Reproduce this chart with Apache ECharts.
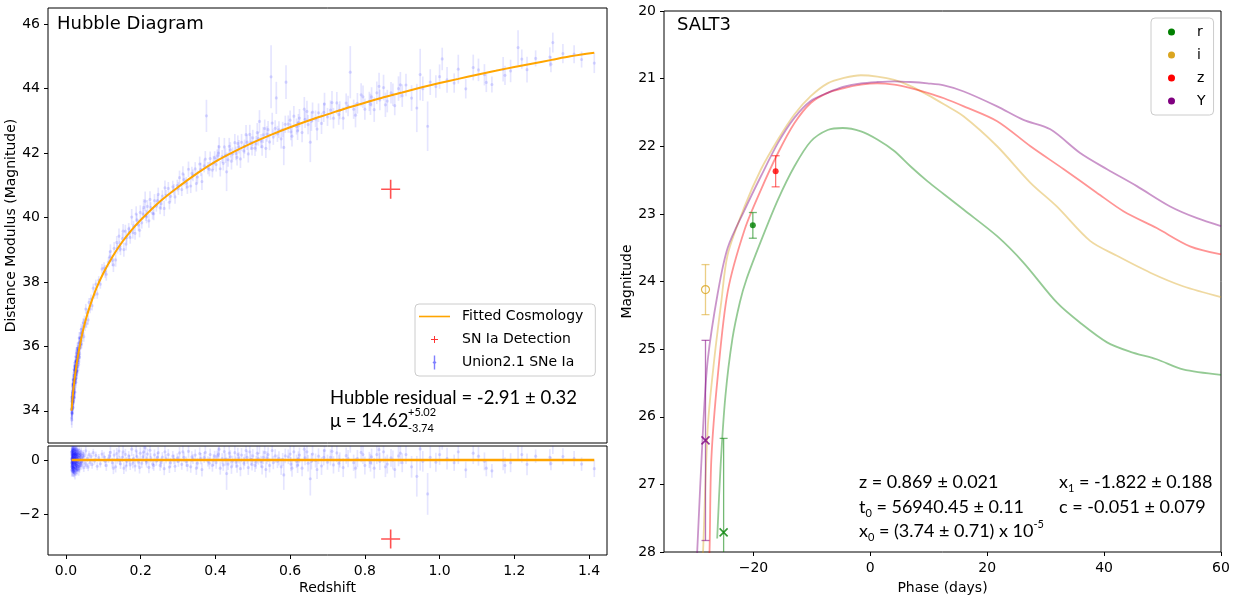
<!DOCTYPE html>
<html>
<head>
<meta charset="utf-8">
<title>Hubble Diagram / SALT3</title>
<script src="https://cdn.jsdelivr.net/npm/echarts@6/dist/echarts.min.js"></script>
<style>
  html, body { margin: 0; padding: 0; background: #fff; }
  #chart { width: 1250px; height: 600px; }
</style>
</head>
<body>
<div id="chart"></div>
<script>
// ---- Hubble diagram: fitted cosmology ----
const fitZ  = [0.015, 0.02, 0.025, 0.03, 0.04, 0.05, 0.06, 0.08, 0.1, 0.125, 0.15, 0.175, 0.2, 0.25, 0.3, 0.35, 0.4, 0.45, 0.5, 0.55, 0.6, 0.65, 0.7, 0.75, 0.8, 0.85, 0.9, 0.95, 1.0, 1.05, 1.1, 1.15, 1.2, 1.25, 1.3, 1.35, 1.414];
const fitMu = [34.0, 34.66, 35.15, 35.55, 36.19, 36.69, 37.1, 37.76, 38.27, 38.79, 39.23, 39.6, 39.92, 40.48, 40.94, 41.36, 41.73, 42.04, 42.32, 42.57, 42.8, 43.01, 43.2, 43.39, 43.56, 43.73, 43.88, 44.03, 44.17, 44.3, 44.43, 44.55, 44.67, 44.78, 44.89, 45.0, 45.11];

// Union2.1 supernovae: [redshift, hubble residual, error]
const nearbySN = [
  [0.0150,0.05,0.2],[0.0151,0.28,0.22],[0.0152,-0.25,0.22],[0.0155,-0.12,0.2],[0.0157,-0.38,0.24],[0.0158,0.31,0.18],
  [0.0161,-0.08,0.25],[0.0162,0.02,0.2],[0.0164,0.18,0.21],[0.0166,0.22,0.2],[0.0168,-0.2,0.22],[0.0170,-0.35,0.23],
  [0.0172,0.32,0.2],[0.0173,0.05,0.17],[0.0175,-0.05,0.2],[0.0177,0.41,0.21],[0.0179,-0.28,0.21],[0.0180,-0.18,0.19],
  [0.0183,0.1,0.19],[0.0184,0.09,0.24],[0.0186,0.36,0.22],[0.0189,-0.42,0.2],[0.0191,-0.1,0.2],[0.0192,0.27,0.18],
  [0.0194,0.4,0.22],[0.0196,-0.03,0.22],[0.0198,-0.31,0.2],[0.0200,0.16,0.16],[0.0202,-0.4,0.21],[0.0204,-0.29,0.21],
  [0.0206,0.08,0.18],[0.0208,0.35,0.2],[0.0210,0.2,0.19],[0.0212,-0.12,0.17],[0.0214,-0.3,0.2],[0.0216,0.02,0.19],
  [0.0219,0.44,0.23],[0.0221,-0.45,0.19],[0.0224,-0.22,0.18],[0.0226,0.05,0.18],[0.0228,0.11,0.16],[0.0230,0.28,0.2],
  [0.0232,-0.38,0.2],[0.0234,0.38,0.21],[0.0236,0.24,0.18],[0.0238,-0.15,0.18],[0.0240,-0.06,0.15],[0.0242,-0.5,0.22],
  [0.0244,0.19,0.17],[0.0247,0.0,0.17],[0.0249,-0.15,0.19],[0.0251,0.24,0.19],[0.0253,0.33,0.2],[0.0255,0.15,0.16],
  [0.0258,-0.27,0.18],[0.0260,-0.05,0.17],[0.0262,0.07,0.15],[0.0264,0.42,0.22],[0.0267,-0.4,0.19],[0.0269,-0.18,0.18],
  [0.0271,0.21,0.16],[0.0273,-0.32,0.19],[0.0276,-0.1,0.17],[0.0279,0.18,0.17],[0.0281,0.38,0.2],[0.0283,0.12,0.16],
  [0.0286,-0.2,0.16],[0.0288,-0.12,0.16],[0.0291,0.04,0.15],[0.0294,0.06,0.17],[0.0296,0.29,0.17],[0.0299,-0.36,0.2],
  [0.0302,-0.33,0.18],[0.0305,0.35,0.19],[0.0308,0.14,0.15],[0.0312,-0.25,0.18],[0.0315,-0.07,0.16],[0.0318,0.21,0.17],
  [0.0322,0.26,0.17],[0.0326,0.0,0.16],[0.0330,-0.24,0.16],[0.0334,-0.02,0.15],[0.0338,0.1,0.15],[0.0342,-0.38,0.2],
  [0.0346,-0.16,0.16],[0.0351,0.25,0.17],[0.0355,0.36,0.18],[0.0360,0.16,0.17],[0.0364,-0.3,0.17],[0.0368,-0.22,0.16],
  [0.0374,0.03,0.14],[0.0380,-0.1,0.16],[0.0385,0.18,0.15],[0.0391,0.11,0.15],[0.0396,-0.13,0.14],[0.0402,0.22,0.16],
  [0.0408,0.3,0.16],[0.0414,-0.08,0.15],[0.0420,-0.21,0.15],[0.0433,0.08,0.14],[0.0447,-0.05,0.15],[0.0455,0.14,0.16],
  [0.0462,0.23,0.14],[0.0478,-0.28,0.16],[0.0495,0.15,0.14],[0.0512,-0.11,0.15],[0.0531,0.34,0.16],[0.0551,-0.19,0.14],
  [0.0572,0.06,0.13],[0.0595,-0.26,0.15],[0.0619,0.2,0.14],[0.0645,-0.09,0.13],[0.0672,0.13,0.14],[0.0701,-0.17,0.15],
  [0.0732,0.27,0.14],[0.0765,-0.04,0.13],[0.0800,0.17,0.14],[0.0838,-0.23,0.15],[0.0878,0.09,0.13],[0.0921,-0.14,0.14],
  [0.0966,0.22,0.15]
];
const sdssSN = [
  [0.102,0.12,0.18],[0.105,-0.05,0.2],[0.108,-0.2,0.2],[0.114,0.05,0.16],[0.117,0.15,0.18],[0.119,0.28,0.22],
  [0.124,-0.1,0.18],[0.127,-0.3,0.22],[0.129,0.18,0.2],[0.133,-0.25,0.21],[0.136,0.24,0.2],[0.138,0.02,0.16],
  [0.142,0.33,0.24],[0.144,-0.02,0.17],[0.146,-0.14,0.19],[0.151,0.1,0.17],[0.153,0.3,0.22],[0.155,-0.3,0.22],
  [0.159,0.21,0.2],[0.161,-0.22,0.2],[0.163,-0.05,0.16],[0.168,0.15,0.18],[0.17,0.02,0.17],[0.172,-0.18,0.19],
  [0.176,0.4,0.25],[0.179,-0.12,0.19],[0.181,0.06,0.16],[0.185,-0.22,0.2],[0.188,0.34,0.24],[0.19,0.13,0.18],
  [0.194,-0.08,0.17],[0.197,-0.28,0.22],[0.199,0.25,0.22],[0.203,-0.12,0.18],[0.206,0.12,0.18],[0.208,0.3,0.26],
  [0.212,0.45,0.3],[0.214,-0.02,0.17],[0.216,-0.08,0.2],[0.218,0.22,0.2],[0.222,-0.27,0.22],[0.225,0.36,0.25],
  [0.227,0.08,0.17],[0.232,-0.15,0.19],[0.235,-0.2,0.2],[0.237,0.19,0.2],[0.242,-0.04,0.17],[0.245,0.1,0.18],
  [0.247,0.27,0.21],[0.252,-0.2,0.2],[0.255,-0.1,0.19],[0.258,0.11,0.18],[0.263,-0.32,0.24],[0.265,0.3,0.23],
  [0.268,0.04,0.17],[0.274,0.2,0.2],[0.277,-0.26,0.22],[0.28,-0.1,0.18],[0.286,0.14,0.19],[0.289,0.02,0.18],
  [0.292,-0.23,0.21],[0.298,0.07,0.18],[0.301,-0.05,0.2],[0.304,0.26,0.22],[0.31,-0.16,0.2],[0.313,0.3,0.24],
  [0.316,0.1,0.18],[0.322,-0.06,0.19],[0.325,-0.2,0.22],[0.328,0.32,0.24],[0.334,-0.25,0.22],[0.337,0.12,0.2],
  [0.34,0.03,0.18],[0.346,0.18,0.21],[0.349,-0.3,0.25],[0.352,-0.12,0.2],[0.358,0.24,0.23],[0.361,0.05,0.21],
  [0.364,-0.35,0.26],[0.37,0.09,0.2],[0.373,0.28,0.25],[0.376,1.6,0.5],[0.38,-0.05,0.19],[0.384,-0.12,0.22],
  [0.386,0.2,0.22],[0.392,-0.2,0.23],[0.395,0.0,0.22],[0.398,0.14,0.2]
];
const snlsSN = [
  [0.402,-0.1,0.22],[0.405,0.15,0.2],[0.408,0.22,0.25],[0.41,0.4,0.3],[0.413,-0.3,0.24],[0.418,0.05,0.2],
  [0.421,-0.18,0.22],[0.424,0.31,0.28],[0.427,0.02,0.23],[0.43,-0.5,0.6],[0.434,-0.15,0.22],[0.437,0.25,0.26],
  [0.44,0.12,0.24],[0.443,-0.25,0.26],[0.446,-0.04,0.2],[0.452,0.27,0.27],[0.455,-0.08,0.21],[0.458,-0.22,0.25],
  [0.46,0.2,0.25],[0.463,0.08,0.21],[0.467,-0.32,0.28],[0.47,0.18,0.26],[0.476,-0.12,0.23],[0.478,0.0,0.22],
  [0.482,0.35,0.3],[0.485,0.1,0.24],[0.488,-0.28,0.27],[0.492,0.3,0.3],[0.495,0.02,0.22],[0.498,-0.16,0.23],
  [0.5,0.15,0.25],[0.506,-0.2,0.24],[0.509,-0.08,0.24],[0.512,0.25,0.3],[0.515,0.05,0.22],[0.518,0.57,0.35],
  [0.522,-0.06,0.22],[0.525,-0.25,0.28],[0.528,0.1,0.25],[0.532,0.28,0.28],[0.535,-0.35,0.3],[0.538,0.08,0.24],
  [0.541,0.2,0.27],[0.545,-0.2,0.26],[0.549,1.8,0.98],[0.552,0.35,0.32],[0.555,-0.1,0.24],[0.56,0.15,0.25],
  [0.563,1.08,0.5],[0.566,-0.05,0.25],[0.57,0.06,0.26],[0.576,-0.25,0.3],[0.58,0.02,0.24],[0.583,-0.55,0.55],
  [0.587,0.15,0.27],[0.589,1.45,0.52],[0.595,0.12,0.27],[0.6,0.22,0.3],[0.602,-0.15,0.26],[0.605,-0.3,0.32],
  [0.61,0.3,0.32],[0.617,-0.05,0.25],[0.62,-0.2,0.28],[0.622,0.05,0.27],[0.625,0.18,0.28],[0.632,-0.3,0.3],
  [0.638,0.4,0.38],[0.64,0.08,0.27],[0.645,0.3,0.33],[0.648,-0.12,0.3],[0.654,-0.69,0.62],[0.657,-0.05,0.3],
  [0.66,0.22,0.3],[0.668,-0.02,0.26],[0.672,-0.35,0.35],[0.676,0.14,0.29],[0.684,-0.22,0.33],[0.69,0.1,0.3],
  [0.692,0.35,0.35],[0.7,-0.08,0.28],[0.708,0.1,0.3],[0.712,0.32,0.36],[0.716,-0.18,0.32],[0.725,0.26,0.34],
  [0.73,-0.12,0.32],[0.733,0.0,0.28],[0.742,-0.28,0.35],[0.75,0.16,0.3],[0.755,0.05,0.32],[0.761,1.08,0.81],
  [0.77,-0.1,0.3],[0.775,-0.3,0.38],[0.78,0.05,0.32],[0.79,0.28,0.36],[0.795,0.2,0.35],[0.8,-0.2,0.33],
  [0.812,0.0,0.3],[0.815,-0.1,0.33],[0.818,0.12,0.3],[0.825,-0.3,0.38],[0.832,0.2,0.35],[0.838,0.38,0.42],
  [0.84,-0.05,0.32],[0.85,0.3,0.4],[0.855,-0.25,0.38],[0.86,-0.15,0.35],[0.87,0.08,0.33],[0.875,0.0,0.35],
  [0.88,-0.35,0.3],[0.89,0.15,0.38],[0.895,0.25,0.4],[0.9,-0.1,0.35]
];
const hstSN = [
  [0.91,0.2,0.35],[0.925,-0.25,0.4],[0.939,-0.6,0.75],[0.948,0.41,0.8],[0.955,-0.05,0.38],[0.968,-1.25,0.77],
  [0.975,0.1,0.4],[0.99,-0.08,0.35],[1.0,0.2,0.38],[1.007,0.73,0.35],[1.02,0.05,0.4],[1.039,-0.1,0.3],
  [1.05,0.3,0.45],[1.07,-0.36,0.3],[1.09,0.25,0.4],[1.104,0.14,0.35],[1.12,-0.05,0.33],[1.125,-0.3,0.3],
  [1.14,-0.4,0.25],[1.17,0.0,0.38],[1.175,-0.2,0.3],[1.19,-0.1,0.35],[1.21,0.58,0.54],[1.22,0.2,0.3],
  [1.234,-0.16,0.4],[1.257,0.14,0.25],[1.295,0.1,0.3],[1.298,-0.13,0.25],[1.303,0.53,0.31],[1.33,0.13,0.3],
  [1.36,0.05,0.28],[1.38,-0.15,0.25],[1.414,-0.32,0.31]
];

// the new SN Ia
const detZ = 0.869;
const detResid = -2.91;

const zTicks = [0, 0.2, 0.4, 0.6, 0.8, 1.0, 1.2, 1.4];
const muTicks = [34, 36, 38, 40, 42, 44, 46];
const residTicks = [-2, 0];
const phaseTicks = [-20, 0, 20, 40, 60];

// ---- SALT3 light-curve models: [phase, magnitude] ----
const curveR = [[-26.2,27.8],[-25.6,26.7],[-24.8,25.7],[-23.6,24.85],[-22.3,24.3],[-21.2,23.97],[-18.7,23.4],[-15.8,22.79],[-13.0,22.3],[-10.2,21.93],[-7.3,21.76],[-4.7,21.73],[-1.6,21.78],[1.2,21.9],[4.1,22.07],[6.9,22.3],[9.8,22.52],[12.6,22.71],[16.0,22.94],[21.7,23.33],[26.2,23.72],[31.9,24.31],[35.9,24.61],[40.5,24.9],[44.5,25.04],[49.0,25.15],[53.5,25.3],[60,25.38]];
const curveI = [[-28.8,28.3],[-28.6,27.96],[-27.8,26.14],[-26.7,25.15],[-25.5,24.3],[-24.4,23.6],[-21.5,22.89],[-18.7,22.34],[-15.8,21.9],[-13.0,21.53],[-10.2,21.26],[-7.3,21.07],[-4.5,20.99],[-1.6,20.95],[1.2,20.97],[4.1,21.02],[6.9,21.11],[9.8,21.24],[12.6,21.38],[16.0,21.56],[21.7,22.0],[27.4,22.54],[31.9,22.89],[37.6,23.4],[42.2,23.62],[47.9,23.87],[53.5,24.07],[60,24.23]];
const curveZ = [[-27.7,28.3],[-27.5,27.96],[-27.2,26.63],[-26.1,25.4],[-24.4,24.15],[-21.5,23.23],[-18.7,22.64],[-15.8,22.1],[-13.0,21.66],[-10.2,21.36],[-7.3,21.21],[-4.5,21.14],[-1.6,21.09],[1.2,21.07],[4.1,21.09],[6.9,21.14],[9.8,21.21],[12.6,21.29],[16.0,21.41],[21.7,21.63],[27.4,22.0],[33.1,22.34],[38.8,22.69],[43.3,22.96],[49.0,23.21],[54.7,23.48],[60,23.6]];
const curveY = [[-29.8,28.3],[-29.6,27.96],[-28.6,26.14],[-27.8,25.15],[-26.1,24.17],[-24.4,23.5],[-21.5,22.94],[-18.7,22.44],[-15.8,21.95],[-13.0,21.58],[-10.2,21.33],[-7.3,21.21],[-4.5,21.12],[-1.6,21.07],[1.2,21.05],[4.1,21.04],[6.9,21.05],[9.8,21.07],[12.6,21.1],[16.0,21.19],[21.7,21.41],[26.2,21.61],[30.8,21.75],[35.9,22.1],[40.5,22.34],[45.6,22.59],[51.3,22.89],[55.8,23.06],[60,23.18]];

// photometry
const obsBand  = ['r', 'r', 'i', 'z', 'Y'];
const obsPhase = [-20.1, -25.1, -28.2, -16.2, -28.2];
const obsMag   = [23.17, 27.71, 24.12, 22.37, 26.35];
const obsErr   = [0.19, 1.39, 0.37, 0.23, 1.48];
const obsKind  = ['detection', 'limit', 'faint', 'detection', 'limit'];

const bandColor = { r: '#008000', i: '#DAA520', z: '#FF0000', Y: '#800080' };
const bandCurves = { r: curveR, i: curveI, z: curveZ, Y: curveY };

const tickFont = 'DejaVu Sans';
const noteFont = 'Lato';

function fitAt(z) {
  for (let k = 1; k < fitZ.length; k++) {
    if (z <= fitZ[k]) {
      const t = (z - fitZ[k - 1]) / (fitZ[k] - fitZ[k - 1]);
      return fitMu[k - 1] + t * (fitMu[k] - fitMu[k - 1]);
    }
  }
  return fitMu[fitMu.length - 1];
}

function minusFmt(v, d) {
  const s = Math.abs(v).toFixed(d);
  return v < 0 ? '\u2212' + s : s;
}

function hexAlpha(hex, a) {
  const n = parseInt(hex.slice(1), 16);
  return 'rgba(' + (n >> 16) + ',' + ((n >> 8) & 255) + ',' + (n & 255) + ',' + a + ')';
}

const allSN = nearbySN.concat(sdssSN, snlsSN, hstSN);
const snMain = allSN.map(p => [p[0], fitAt(p[0]) + p[1], p[2]]);
const snResid = allSN.map(p => [p[0], p[1], p[2]]);

// light blue error bar + dot, clipped to the grid
function renderSN(params, api) {
  const cs = params.coordSys;
  const lo = cs.y, hi = cs.y + cs.height;
  const z = api.value(0), m = api.value(1), e = api.value(2);
  const a = api.coord([z, m + e]), b = api.coord([z, m - e]), c = api.coord([z, m]);
  const y0 = Math.min(Math.max(Math.min(a[1], b[1]), lo), hi);
  const y1 = Math.min(Math.max(Math.max(a[1], b[1]), lo), hi);
  const kids = [];
  if (y1 - y0 > 0.2) {
    kids.push({ type: 'line', shape: { x1: c[0], y1: y0, x2: c[0], y2: y1 },
      style: { stroke: 'rgba(0,0,255,0.1)', lineWidth: 1.7 } });
  }
  if (c[1] >= lo && c[1] <= hi) {
    kids.push({ type: 'circle', shape: { cx: c[0], cy: c[1], r: 1.6 },
      style: { fill: 'rgba(0,0,255,0.13)' } });
  }
  return { type: 'group', children: kids };
}

// capped error bar for the photometry
function makeCapBar(color) {
  return function (params, api) {
    const cs = params.coordSys;
    const lo = cs.y, hi = cs.y + cs.height;
    const x = api.value(0), m = api.value(1), e = api.value(2);
    const a = api.coord([x, m - e]), b = api.coord([x, m + e]);
    const top = Math.min(a[1], b[1]), bot = Math.max(a[1], b[1]);
    const st = { stroke: color, lineWidth: 1.3 };
    const kids = [{ type: 'line', shape: { x1: a[0], y1: Math.max(top, lo), x2: a[0], y2: Math.min(bot, hi) }, style: st }];
    if (top >= lo && top <= hi) kids.push({ type: 'line', shape: { x1: a[0] - 4, y1: top, x2: a[0] + 4, y2: top }, style: st });
    if (bot >= lo && bot <= hi) kids.push({ type: 'line', shape: { x1: a[0] - 4, y1: bot, x2: a[0] + 4, y2: bot }, style: st });
    return { type: 'group', children: kids };
  };
}

const plusSymbol = 'path://M8.7,0H10.3V8.7H19V10.3H10.3V19H8.7V10.3H0V8.7H8.7Z';
const plusIcon = 'path://M0,0M31,14M15,3.5H16V6.5H19V7.5H16V10.5H15V7.5H12V6.5H15Z';
const barIcon = 'path://M0,0M31,14M14.8,0H16.2V14H14.8Z M15.5,5L17.5,7L15.5,9L13.5,7Z';
const lineIcon = 'path://M0,0M31,14M0,6.2H31V7.8H0Z';
const crossSymbol = 'path://M0,0L10,10M10,0L0,10';

const axisTxt = { fontFamily: tickFont, fontSize: 14, color: '#000' };
const tickStyle = { length: 4, lineStyle: { color: '#000', width: 1 } };
const noLine = { show: false, onZero: false };

const series = [
  { name: 'Union2.1 SNe Ia', type: 'custom', xAxisIndex: 0, yAxisIndex: 0, renderItem: renderSN,
    encode: { x: 0, y: 1 }, data: snMain, itemStyle: { color: 'rgba(0,0,255,0.45)' }, z: 2, silent: true },
  { name: 'Fitted Cosmology', type: 'line', xAxisIndex: 0, yAxisIndex: 0, smooth: 0.3, symbol: 'none',
    data: fitZ.map((z, k) => [z, fitMu[k]]), lineStyle: { color: '#FFA500', width: 2 }, itemStyle: { color: '#FFA500' }, z: 3 },
  { name: 'SN Ia Detection', type: 'scatter', xAxisIndex: 0, yAxisIndex: 0, symbol: plusSymbol, symbolSize: 19,
    data: [[detZ, fitAt(detZ) + detResid]], itemStyle: { color: 'rgba(255,0,0,0.85)' }, z: 4 },

  { name: 'Union2.1 SNe Ia', type: 'custom', xAxisIndex: 1, yAxisIndex: 1, renderItem: renderSN,
    encode: { x: 0, y: 1 }, data: snResid, itemStyle: { color: 'rgba(0,0,255,0.45)' }, z: 2, silent: true },
  { name: 'Fitted Cosmology', type: 'line', xAxisIndex: 1, yAxisIndex: 1, symbol: 'none',
    data: [[fitZ[0], 0], [fitZ[fitZ.length - 1], 0]], lineStyle: { color: '#FFA500', width: 2.5 }, itemStyle: { color: '#FFA500' }, z: 3 },
  { name: 'SN Ia Detection', type: 'scatter', xAxisIndex: 1, yAxisIndex: 1, symbol: plusSymbol, symbolSize: 19,
    data: [[detZ, detResid]], itemStyle: { color: 'rgba(255,0,0,0.85)' }, z: 4 }
];

Object.keys(bandCurves).forEach(b => {
  series.push({ name: b, type: 'line', xAxisIndex: 2, yAxisIndex: 2, smooth: 0.3, symbol: 'none',
    data: bandCurves[b], itemStyle: { color: bandColor[b] },
    lineStyle: { color: bandColor[b], width: 1.8, opacity: 0.42 }, z: 2 });
});

obsBand.forEach((b, k) => {
  const pt = [obsPhase[k], obsMag[k], obsErr[k]];
  series.push({ name: b + ' obs err', type: 'custom', xAxisIndex: 2, yAxisIndex: 2,
    renderItem: makeCapBar(hexAlpha(bandColor[b], 0.55)), encode: { x: 0, y: 1 }, data: [pt], z: 3, silent: true });
  const kind = obsKind[k];
  const sc = { name: b + ' obs', type: 'scatter', xAxisIndex: 2, yAxisIndex: 2, data: [[pt[0], pt[1]]], z: 4 };
  if (kind === 'detection') {
    sc.symbol = 'circle'; sc.symbolSize = 6; sc.itemStyle = { color: bandColor[b] };
  } else if (kind === 'faint') {
    sc.symbol = 'circle'; sc.symbolSize = 8;
    sc.itemStyle = { color: 'transparent', borderColor: bandColor[b], borderWidth: 1.2 };
  } else {
    sc.symbol = crossSymbol; sc.symbolSize = 8;
    sc.itemStyle = { color: 'transparent', borderColor: bandColor[b], borderWidth: 1.6 };
  }
  series.push(sc);
});

const noteRich = {
  n: { fontFamily: noteFont, fontSize: 18, lineHeight: 24, fill: '#000' },
  s: { fontFamily: noteFont, fontSize: 11, lineHeight: 11, verticalAlign: 'bottom', fill: '#000' },
  p: { fontFamily: noteFont, fontSize: 11, lineHeight: 11, verticalAlign: 'top', fill: '#000' }
};
function note(x, y, text) {
  return { type: 'text', x: x, y: y, silent: true,
    style: { text: text, rich: noteRich, align: 'left', verticalAlign: 'middle' } };
}
function plain(x, y, text, size, family) {
  return { type: 'text', x: x, y: y, silent: true,
    style: { text: text, fontFamily: family, fontSize: size, fill: '#000', align: 'left', verticalAlign: 'middle' } };
}

const chart = echarts.init(document.getElementById('chart'));
chart.setOption({
  animation: false,
  backgroundColor: '#fff',
  grid: [
    { left: 48, top: 8, width: 559, height: 435, show: true, borderColor: '#000', borderWidth: 1 },
    { left: 48, top: 446, width: 559, height: 109, show: true, borderColor: '#000', borderWidth: 1 },
    { left: 664, top: 11, width: 557, height: 541, show: true, borderColor: '#000', borderWidth: 1 }
  ],
  xAxis: [
    { gridIndex: 0, type: 'value', min: -0.048, max: 1.448, axisLine: noLine,
      axisTick: { show: false }, axisLabel: { show: false }, splitLine: { show: false } },
    { gridIndex: 1, type: 'value', min: -0.048, max: 1.448, axisLine: noLine,
      name: 'Redshift', nameLocation: 'middle', nameGap: 26, nameTextStyle: { fontFamily: tickFont, fontSize: 14, color: '#000' },
      axisTick: Object.assign({ customValues: zTicks }, tickStyle),
      axisLabel: Object.assign({ customValues: zTicks, margin: 9, formatter: v => minusFmt(v, 1) }, axisTxt),
      splitLine: { show: false } },
    { gridIndex: 2, type: 'value', min: -35.3, max: 60, axisLine: noLine,
      name: 'Phase (days)', nameLocation: 'middle', nameGap: 29, nameTextStyle: { fontFamily: tickFont, fontSize: 14, color: '#000' },
      axisTick: Object.assign({ customValues: phaseTicks }, tickStyle),
      axisLabel: Object.assign({ customValues: phaseTicks, margin: 9, formatter: v => minusFmt(v, 0) }, axisTxt),
      splitLine: { show: false } }
  ],
  yAxis: [
    { gridIndex: 0, type: 'value', min: 33.0, max: 46.5, axisLine: noLine,
      name: 'Distance Modulus (Magnitude)', nameLocation: 'middle', nameGap: 30,
      nameTextStyle: { fontFamily: tickFont, fontSize: 14, color: '#000' },
      axisTick: Object.assign({ customValues: muTicks }, tickStyle),
      axisLabel: Object.assign({ customValues: muTicks, margin: 8, formatter: v => minusFmt(v, 0) }, axisTxt),
      splitLine: { show: false } },
    { gridIndex: 1, type: 'value', min: -3.5, max: 0.516, axisLine: noLine,
      axisTick: Object.assign({ customValues: residTicks }, tickStyle),
      axisLabel: Object.assign({ customValues: residTicks, margin: 8, formatter: v => minusFmt(v, 0) }, axisTxt),
      splitLine: { show: false } },
    { gridIndex: 2, type: 'value', inverse: true, min: 20, max: 28, interval: 1, axisLine: noLine,
      name: 'Magnitude', nameLocation: 'middle', nameGap: 30,
      nameTextStyle: { fontFamily: tickFont, fontSize: 14, color: '#000' },
      axisTick: tickStyle,
      axisLabel: Object.assign({ margin: 8, formatter: v => minusFmt(v, 0) }, axisTxt),
      splitLine: { show: false } }
  ],
  legend: [
    { left: 415, top: 304, orient: 'vertical', itemWidth: 31, itemHeight: 14, itemGap: 6,
      padding: [4, 12, 5, 4], borderColor: '#ccc', borderWidth: 1, borderRadius: 4,
      backgroundColor: 'rgba(255,255,255,0.8)', selectedMode: false,
      textStyle: { fontFamily: tickFont, fontSize: 14, color: '#000', padding: [0, 0, 0, 7], lineHeight: 17 },
      data: [
        { name: 'Fitted Cosmology', icon: lineIcon, itemStyle: { color: '#FFA500' } },
        { name: 'SN Ia Detection', icon: plusIcon, itemStyle: { color: '#FF0000' } },
        { name: 'Union2.1 SNe Ia', icon: barIcon, itemStyle: { color: 'rgba(0,0,255,0.5)' } }
      ] },
    { left: 1151, top: 18, orient: 'vertical', itemWidth: 7, itemHeight: 7, itemGap: 5,
      padding: [5, 8, 5, 17], borderColor: '#ccc', borderWidth: 1, borderRadius: 4,
      backgroundColor: 'rgba(255,255,255,0.8)', selectedMode: false, icon: 'circle',
      textStyle: { fontFamily: tickFont, fontSize: 14, color: '#000', padding: [0, 0, 0, 17], lineHeight: 18 },
      data: ['r', 'i', 'z', 'Y'] }
  ],
  graphic: [
    plain(57, 24, 'Hubble Diagram', 18, tickFont),
    plain(677, 25, 'SALT3', 18, tickFont),
    plain(330, 398, 'Hubble residual = -2.91 \u00b1 0.32', 18.5, noteFont),
    plain(330, 421, '\u03bc = 14.62', 18.5, noteFont),
    plain(408, 412, '+5.02', 11, noteFont),
    plain(408, 428, '-3.74', 11, noteFont),
    note(859, 482, '{n|z = 0.869 \u00b1 0.021}'),
    note(859, 507, '{n|t}{s|0}{n| = 56940.45 \u00b1 0.11}'),
    note(859, 531, '{n|x}{s|0}{n| = (3.74 \u00b1 0.71) x 10}{p|-5}'),
    note(1059, 482, '{n|x}{s|1}{n| = -1.822 \u00b1 0.188}'),
    note(1059, 507, '{n|c = -0.051 \u00b1 0.079}')
  ],
  series: series
});
</script>
</body>
</html>
